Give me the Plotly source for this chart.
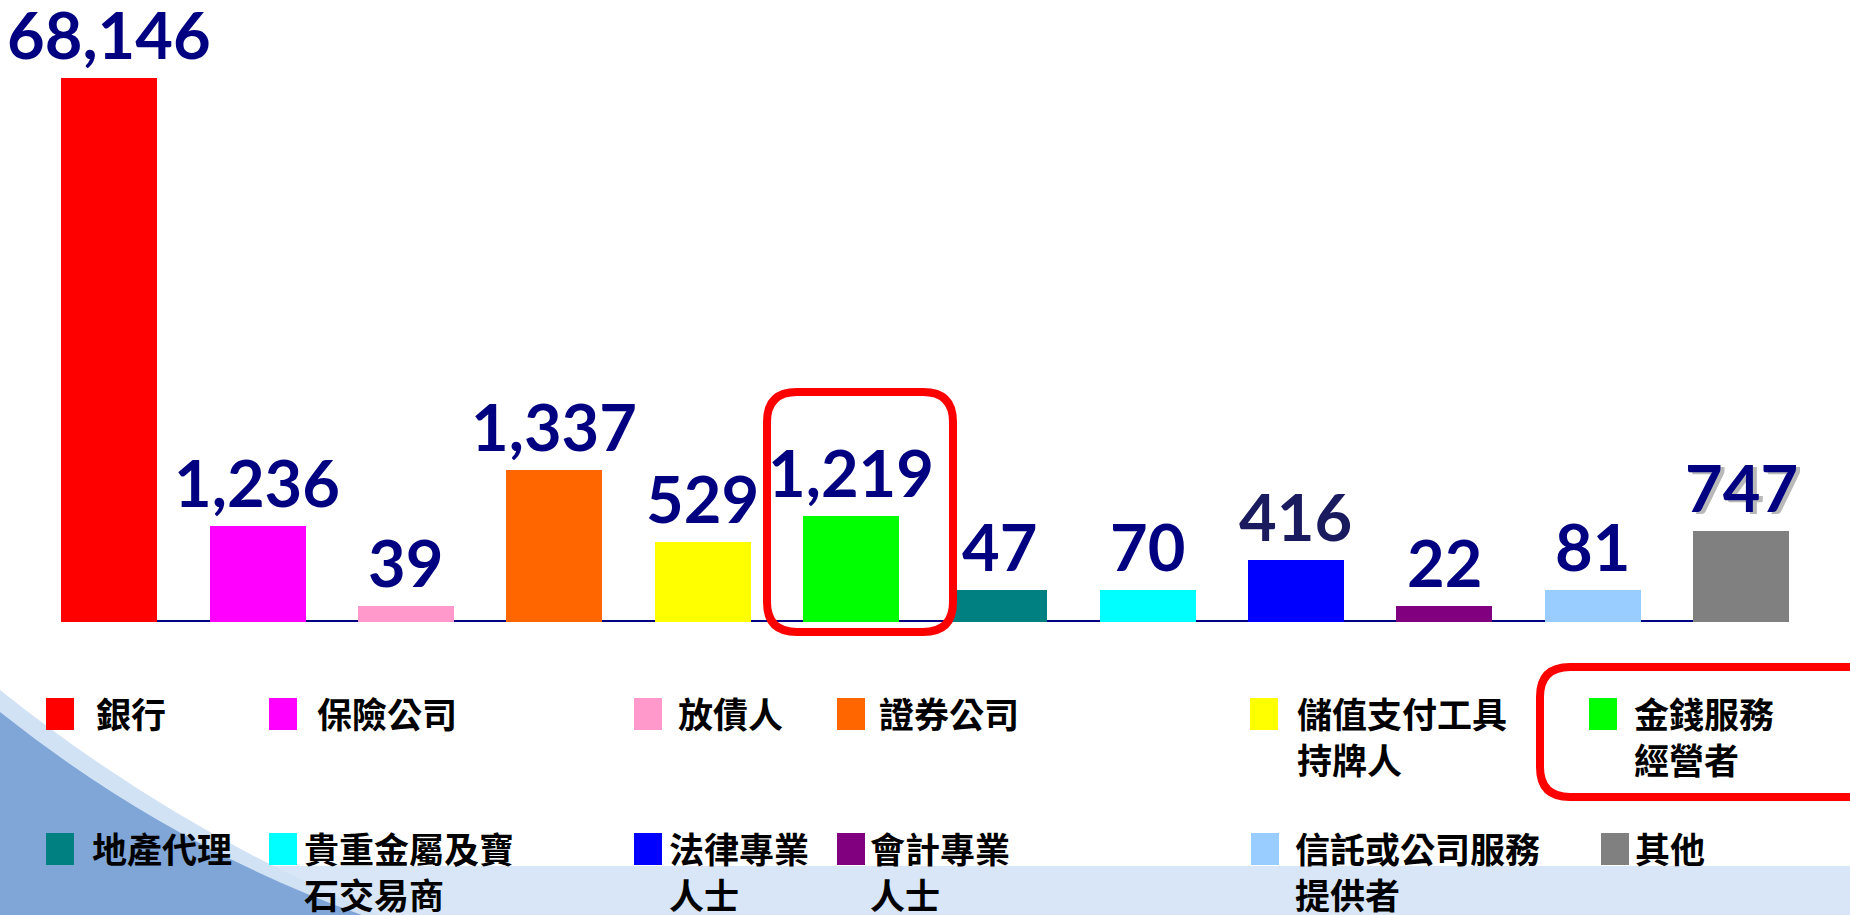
import plotly.graph_objects as go

# ---------------- data ----------------
categories = ['銀行', '保險公司', '放債人', '證券公司', '儲值支付工具持牌人', '金錢服務經營者',
              '地產代理', '貴重金屬及寶石交易商', '法律專業人士', '會計專業人士',
              '信託或公司服務提供者', '其他']
legend_labels = ['銀行', '保險公司', '放債人', '證券公司', '儲值支付工具<br>持牌人', '金錢服務<br>經營者',
                 '地產代理', '貴重金屬及寶<br>石交易商', '法律專業<br>人士', '會計專業<br>人士',
                 '信託或公司服務<br>提供者', '其他']
values = [68146, 1236, 39, 1337, 529, 1219, 47, 70, 416, 22, 81, 747]
# bar heights as drawn in the (non-proportional) infographic, relative units
drawn_heights = [544, 96, 16, 152, 80, 106, 32, 32, 62, 16, 32, 91]
colors = ['#FF0000', '#FF00FF', '#FF99CC', '#FF6600', '#FFFF00', '#00FF00',
          '#008080', '#00FFFF', '#0000FF', '#800080', '#99CCFF', '#808080']

# ---------------- layout constants ----------------
W, H = 1850, 915
BAR_W = 0.647
NAVY = '#000080'


def px(x, y):
    return x / W, 1 - y / H


def rounded_path(x0, y0, x1, y1, r):
    def P(x, y):
        a, b = px(x, y)
        return f'{a:.5f},{b:.5f}'
    return (f'M {P(x0 + r, y0)} L {P(x1 - r, y0)} Q {P(x1, y0)} {P(x1, y0 + r)} '
            f'L {P(x1, y1 - r)} Q {P(x1, y1)} {P(x1 - r, y1)} L {P(x0 + r, y1)} '
            f'Q {P(x0, y1)} {P(x0, y1 - r)} L {P(x0, y0 + r)} Q {P(x0, y0)} {P(x0 + r, y0)} Z')


fig = go.Figure()
fig.add_trace(go.Bar(
    x=categories, y=drawn_heights, marker=dict(color=colors, line=dict(width=0)),
    width=BAR_W, showlegend=False, hoverinfo='skip'))

shapes = []
# background decoration: light band at the bottom and a blue swoosh at lower left
shapes.append(dict(type='rect', xref='paper', yref='paper', x0=0, x1=1,
                   y0=px(0, 915)[1], y1=px(0, 866)[1], fillcolor='#D8E6F7',
                   line=dict(width=0), layer='below'))
g0 = px(0, 690); gc = px(175, 830); g1 = px(380, 915); g2 = px(0, 915)
shapes.append(dict(type='path', xref='paper', yref='paper',
                   path=f'M {g0[0]},{g0[1]} Q {gc[0]},{gc[1]} {g1[0]},{g1[1]} L {g2[0]},{g2[1]} Z',
                   fillcolor='#D2E2F5', line=dict(width=0), layer='below'))
a0 = px(0, 712); c = px(167, 845); a1 = px(362, 915); a2 = px(0, 915)
shapes.append(dict(type='path', xref='paper', yref='paper',
                   path=f'M {a0[0]},{a0[1]} Q {c[0]},{c[1]} {a1[0]},{a1[1]} L {a2[0]},{a2[1]} Z',
                   fillcolor='#7FA6D7', line=dict(width=0), layer='below'))
# baseline
shapes.append(dict(type='line', xref='x', yref='y', x0=-BAR_W / 2, x1=len(categories) - 1 + BAR_W / 2,
                   y0=0, y1=0, line=dict(color=NAVY, width=4), layer='below'))
# highlight boxes
shapes.append(dict(type='path', xref='paper', yref='paper', path=rounded_path(767, 392, 953, 632, 30),
                   line=dict(color='#FF0000', width=8), fillcolor='rgba(0,0,0,0)'))
shapes.append(dict(type='path', xref='paper', yref='paper', path=rounded_path(1540, 667, 1880, 797, 30),
                   line=dict(color='#FF0000', width=8), fillcolor='rgba(0,0,0,0)'))

annotations = []
# value labels
for i, (cat, v, h) in enumerate(zip(categories, values, drawn_heights)):
    col = '#1A1A5E' if v == 416 else NAVY
    if v == 747:
        annotations.append(dict(x=cat, y=h, xref='x', yref='y', text=f'{v:,}', showarrow=False,
                                yanchor='bottom', yshift=1, xshift=4,
                                font=dict(family='Lato', size=65, color='rgba(128,128,128,0.55)', weight='bold')))
    annotations.append(dict(x=cat, y=h, xref='x', yref='y', text=f'{v:,}', showarrow=False,
                            yanchor='bottom', yshift=3,
                            font=dict(family='Lato', size=65, color=col, weight='bold')))

# custom legend (two rows of six)
marker_x = [46, 269, 634, 837, 1250, 1589, 46, 269, 634, 837, 1251, 1601]
text_x = [94, 315, 676, 877, 1295, 1632, 90, 302, 667, 868, 1293, 1633]
row_top = [698, 833]
for i, (lab, colr) in enumerate(zip(legend_labels, colors)):
    r = 0 if i < 6 else 1
    mx0, my0 = px(marker_x[i], row_top[r])
    mx1, my1 = px(marker_x[i] + 28, row_top[r] + 32)
    shapes.append(dict(type='rect', xref='paper', yref='paper', x0=mx0, x1=mx1, y0=my1, y1=my0,
                       fillcolor=colr, line=dict(width=0)))
    tx, ty = px(text_x[i], row_top[r] - 13)
    annotations.append(dict(x=tx, y=ty, xref='paper', yref='paper', text=lab, showarrow=False,
                            xanchor='left', yanchor='top', align='left',
                            font=dict(family='Noto Sans CJK TC', size=35, color='#000000', weight='bold')))

x_left = 109 - 148.36 / 2
x_right = 1741 + 148.36 / 2
fig.update_layout(
    width=W, height=H, margin=dict(l=0, r=0, t=0, b=0),
    paper_bgcolor='#FFFFFF', plot_bgcolor='rgba(0,0,0,0)',
    bargap=0,
    xaxis=dict(domain=[x_left / W, x_right / W], range=[-0.5, 11.5], visible=False),
    yaxis=dict(domain=[1 - 622 / H, 1 - 22 / H], range=[0, 600], visible=False),
    shapes=shapes, annotations=annotations, showlegend=False,
)

fig.write_html('out.html', config={'displayModeBar': False},
               post_script="document.body.style.margin='0';document.body.style.overflow='hidden';")
